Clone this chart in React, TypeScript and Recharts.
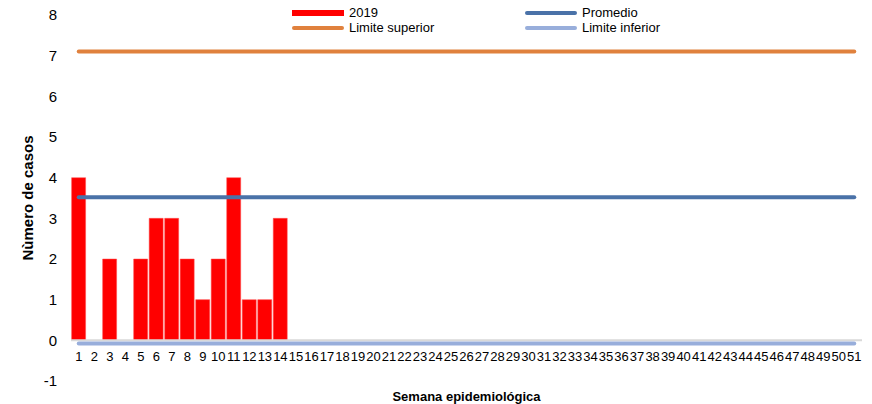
import {
  Bar,
  ComposedChart,
  Line,
  ReferenceLine,
  XAxis,
  YAxis,
} from "recharts";

const weeks = Array.from({ length: 51 }, (_, i) => String(i + 1));
const cases2019 = [4, 0, 2, 0, 2, 3, 3, 2, 1, 2, 4, 1, 1, 3];
const promedio = 3.52;
const limiteSuperior = 7.1;
const limiteInferior = -0.08;
const yTicks = [-1, 0, 1, 2, 3, 4, 5, 6, 7, 8];

const data = weeks.map((w, i) => ({
  week: w,
  cases: i < cases2019.length ? cases2019[i] : null,
  promedio,
  superior: limiteSuperior,
  inferior: limiteInferior,
}));

const font = "'Liberation Sans', Arial, sans-serif";

const legendItems = [
  { label: "2019", color: "#ff0000", bar: true, left: 292, top: 5 },
  { label: "Promedio", color: "#4a72a8", left: 525, top: 5 },
  { label: "Limite superior", color: "#e0813d", left: 292, top: 20 },
  { label: "Limite inferior", color: "#98aedb", left: 525, top: 20 },
];

function ChartLegend() {
  return (
    <div style={{ position: "absolute", left: 0, top: 0, width: 872, height: 40 }}>
      {legendItems.map((it) => (
        <div
          key={it.label}
          style={{
            position: "absolute",
            left: it.left,
            top: it.top,
            display: "flex",
            alignItems: "center",
            fontFamily: font,
            fontSize: 13,
            color: "#000",
            lineHeight: "15px",
          }}
        >
          <span
            style={{
              display: "inline-block",
              width: 52,
              height: it.bar ? 6 : 4,
              borderRadius: it.bar ? 0 : 2,
              background: it.color,
              marginRight: 5,
            }}
          />
          {it.label}
        </div>
      ))}
    </div>
  );
}

function WeekTick({ x, y, payload }: any) {
  return (
    <text
      x={x}
      y={y - 20}
      textAnchor="middle"
      fontFamily={font}
      fontSize={13}
      fill="#000"
    >
      {payload.value}
    </text>
  );
}

export default function App() {
  return (
    <div style={{ position: "absolute", left: 0, top: 0, width: 872, height: 404, background: "#fff" }}>
      <ComposedChart
        width={872}
        height={404}
        data={data}
        barCategoryGap="4%"
        margin={{ top: 15, right: 10, left: 0, bottom: 0 }}
      >
        <XAxis
          dataKey="week"
          height={23}
          axisLine={false}
          tickLine={false}
          tickSize={0}
          tickMargin={0}
          interval={0}
          tick={<WeekTick />}
          label={{
            value: "Semana epidemiológica",
            position: "insideBottom",
            offset: 3,
            fontFamily: font,
            fontSize: 13,
            fontWeight: "bold",
            fill: "#000",
          }}
        />
        <YAxis
          width={71}
          domain={[-1, 8]}
          ticks={yTicks}
          interval={0}
          axisLine={false}
          tickLine={false}
          tickMargin={8}
          tick={{ fontFamily: font, fontSize: 15, fill: "#000" }}
          label={{
            value: "Nùmero de casos",
            angle: -90,
            position: "insideLeft",
            offset: 28,
            style: { textAnchor: "middle" },
            fontFamily: font,
            fontSize: 15,
            fontWeight: "bold",
            fill: "#000",
          }}
        />
        <ReferenceLine y={0} stroke="#d9d9d9" strokeWidth={2} />
        <Bar
          dataKey="cases"
          fill="#ff0000"
          stroke="#ff5050"
          strokeWidth={0.5}
          isAnimationActive={false}
        />
        <Line
          dataKey="superior"
          stroke="#e0813d"
          strokeWidth={4}
          strokeLinecap="round"
          dot={false}
          activeDot={false}
          isAnimationActive={false}
        />
        <Line
          dataKey="promedio"
          stroke="#4a72a8"
          strokeWidth={4}
          strokeLinecap="round"
          dot={false}
          activeDot={false}
          isAnimationActive={false}
        />
        <Line
          dataKey="inferior"
          stroke="#98aedb"
          strokeWidth={4}
          strokeLinecap="round"
          dot={false}
          activeDot={false}
          isAnimationActive={false}
        />
      </ComposedChart>
      <ChartLegend />
    </div>
  );
}
